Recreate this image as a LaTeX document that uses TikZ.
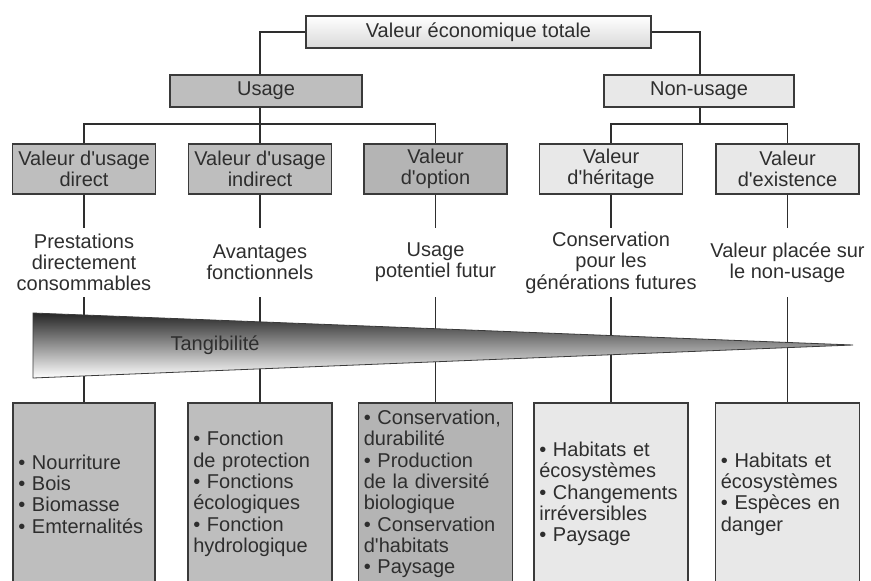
\documentclass[tikz,border=0pt]{standalone}
\usepackage{fontspec}
\setmainfont{Liberation Sans}
\newcommand{\ap}{\textquotesingle}
\definecolor{ink}{HTML}{2E2E2E}
\definecolor{edge}{HTML}{3A3A3A}
\definecolor{darkfill}{HTML}{BEBEBE}
\definecolor{optfill}{HTML}{B4B4B4}
\definecolor{lightfill}{HTML}{E8E8E8}
\begin{document}
\begin{tikzpicture}[x=0.75pt,y=-0.75pt,
	box/.style={draw=edge,line width=1.1pt,text=ink,inner sep=0pt,align=center,font=\fontsize{15pt}{16pt}\selectfont},
	dark/.style={box,fill=darkfill},
	light/.style={box,fill=lightfill},
	head/.style={minimum width=107.25pt,minimum height=37.5pt},
	idea/.style={text=ink,align=center,minimum height=51.75pt,inner sep=0pt,font=\fontsize{15pt}{16pt}\selectfont},
	list/.style={minimum height=136.5pt,text width=#1,inner xsep=4pt,align=left},
	link/.style={draw=ink,line width=0.9pt}]
	\clip (0,0) rectangle (871,581);
	\node[light,top color=white,bottom color=gray!30,minimum width=258.75pt,minimum height=24pt] (total) at (478.5,32) {Valeur économique totale};
	\node[dark,minimum width=144pt,minimum height=24pt] (usage) at (266,91) {Usage};
	\node[light,minimum width=142.5pt,minimum height=24pt] (nonusage) at (699,91) {Non-usage};
	\node[dark,head] (direct) at (84,169) {Valeur d\ap usage\\direct};
	\node[dark,head] (indirect) at (260,169) {Valeur d\ap usage\\indirect};
	\node[dark,head,fill=optfill] (option) at (435.5,169) {Valeur\\d\ap option};
	\node[light,head] (heritage) at (611,169) {Valeur\\d\ap héritage};
	\node[light,head] (existence) at (787.5,169) {Valeur\\d\ap existence};
	\node[idea] (conso) at (84,262.5) {Prestations\\directement\\consommables};
	\node[idea] (fonct) at (260,262.5) {Avantages\\fonctionnels};
	\node[idea] (futur) at (435.5,262.5) {Usage\\potentiel futur};
	\node[idea] (gener) at (611,262.5) {Conservation\\pour les\\générations futures};
	\node[idea] (nonuse) at (787.5,262.5) {Valeur placée sur\\le non-usage};
	\node[dark,list=98.5pt] (ldirect) at (84,494) {• Nourriture\\• Bois\\• Biomasse\\• Emternalités};
	\node[dark,list=100pt] (lindirect) at (260,494) {• Fonction\\de protection\\• Fonctions\\écologiques\\• Fonction\\hydrologique};
	\node[dark,fill=optfill,list=107.5pt] (loption) at (435.5,494) {• Conservation,\\durabilité\\• Production\\de la diversité\\biologique\\• Conservation\\d\ap habitats\\• Paysage};
	\node[light,list=107.5pt] (lheritage) at (611,494) {• Habitats et\\écosystèmes\\• Changements\\irréversibles\\• Paysage};
	\node[light,list=100pt] (lexistence) at (787.5,494) {• Habitats et\\écosystèmes\\• Espèces en\\danger};
	\coordinate (ju) at (260,124);
	\coordinate (jn) at (700,124);
	\draw[link] (total.west) -| (usage.north -| ju);
	\draw[link] (total.east) -| (nonusage.north -| jn);
	\draw[link] (usage.south -| ju) -- (ju);
	\draw[link] (nonusage.south -| jn) -- (jn);
	\draw[link] (direct.north) |- (ju) -| (option.north);
	\draw[link] (ju) -- (indirect.north);
	\draw[link] (heritage.north) |- (jn) -| (existence.north);
	\foreach \a/\b/\c in {direct/conso/ldirect,indirect/fonct/lindirect,option/futur/loption,heritage/gener/lheritage,existence/nonuse/lexistence}{
		\draw[link] (\a.south) -- (\b.north);
		\draw[link] (\b.south) -- (\c.north);
	}
	\draw[draw=edge,line width=0.6pt,top color=black!85,bottom color=white] (33,313) -- (853,345) -- (33,378) -- cycle;
	\node[text=ink,font=\fontsize{15pt}{16pt}\selectfont] (tang) at (215,345) {Tangibilité};
\end{tikzpicture}
\end{document}
